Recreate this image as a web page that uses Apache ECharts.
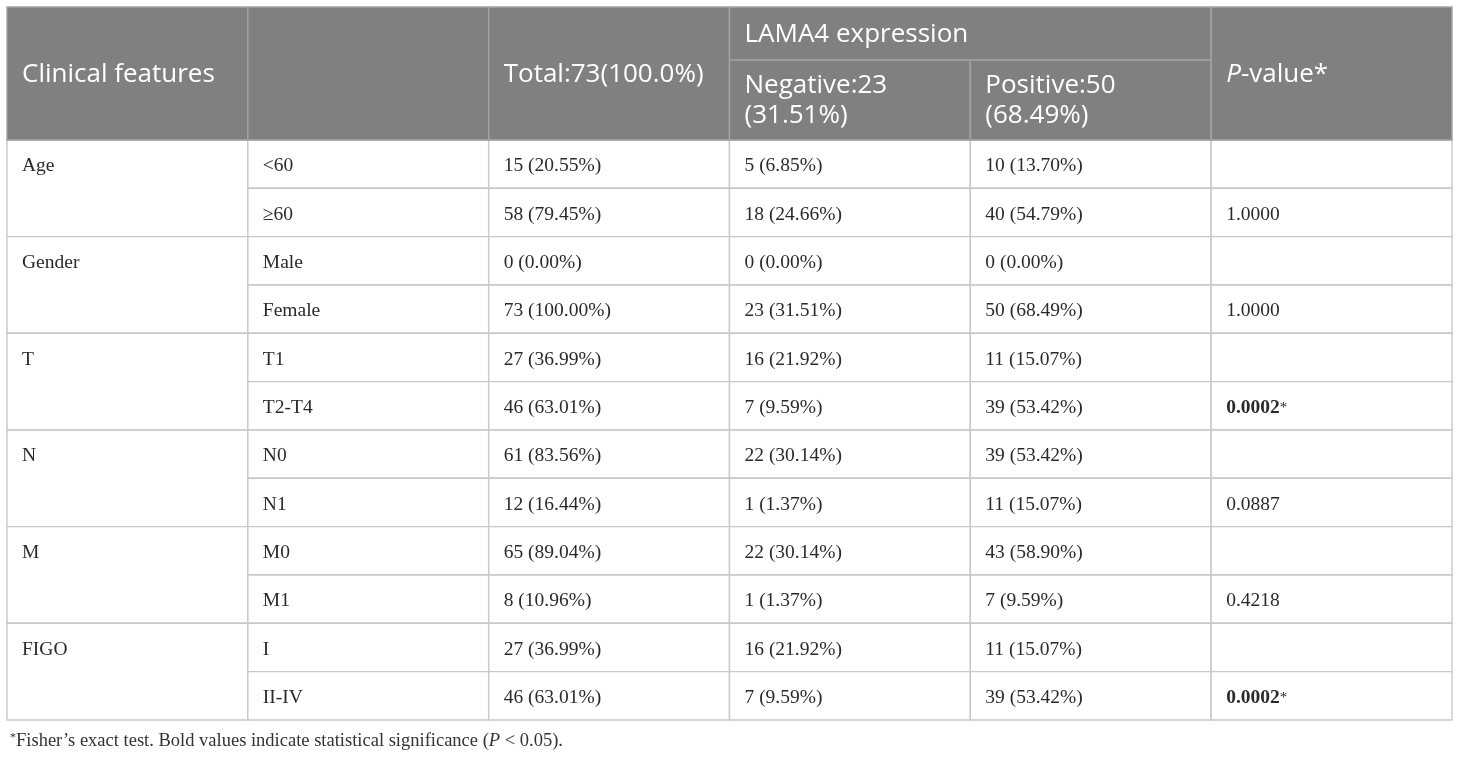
<!DOCTYPE html>
<html>
<head>
<meta charset="utf-8">
<title>LAMA4 expression and clinical features</title>
<script src="https://cdn.jsdelivr.net/npm/echarts@6/dist/echarts.min.js"></script>
<style>
  html, body { margin: 0; padding: 0; background: #fff; }
  #chart { width: 1460px; height: 757px; }
</style>
</head>
<body>
<div id="chart"></div>
<script>
// table content, one entry per body row (two rows per clinical feature)
const features = ["Age", "Gender", "T", "N", "M", "FIGO"];
const subgroups = ["<60", "≥60", "Male", "Female", "T1", "T2-T4", "N0", "N1", "M0", "M1", "I", "II-IV"];

const totalCounts = [15, 58, 0, 73, 27, 46, 61, 12, 65, 8, 27, 46];
const totalPct = [20.55, 79.45, 0.0, 100.0, 36.99, 63.01, 83.56, 16.44, 89.04, 10.96, 36.99, 63.01];

const negativeCounts = [5, 18, 0, 23, 16, 7, 22, 1, 22, 1, 16, 7];
const negativePct = [6.85, 24.66, 0.0, 31.51, 21.92, 9.59, 30.14, 1.37, 30.14, 1.37, 21.92, 9.59];

const positiveCounts = [10, 40, 0, 50, 11, 39, 39, 11, 43, 7, 11, 39];
const positivePct = [13.7, 54.79, 0.0, 68.49, 15.07, 53.42, 53.42, 15.07, 58.9, 9.59, 15.07, 53.42];

// one P-value per feature, shown on the feature's second row
const pValues = [1.0, 1.0, 0.0002, 0.0887, 0.4218, 0.0002];

const headerTitles = ["Clinical features", "", "Total:73(100.0%)", "LAMA4 expression",
  "Negative:23\n(31.51%)", "Positive:50\n(68.49%)", "{i|P}-value*"];
const footnote = "{sup|*}Fisher’s exact test. Bold values indicate statistical significance ({i|P} < 0.05).";

// y units: header top band 1.1, lower band 1.65, then one unit per body row
const HEAD_TOP = 1.1;
const HEAD_END = 2.75;

function cellText(n, p) {
  return n + " (" + p.toFixed(2) + "%)";
}

// build cells: [x0, y0, x1, y1], text, kind
// textSpan = how many units from the top the label is centred in (merged cells keep it on the first row)
const cells = [];

features.forEach((f, i) => {
  const r = HEAD_END + i * 2;
  cells.push({ value: [0, r, 1, r + 2], text: f, kind: "body", textSpan: 1 });
  for (let k = 0; k < 2; k++) {
    const j = i * 2 + k;
    const y = r + k;
    cells.push({ value: [1, y, 2, y + 1], text: subgroups[j], kind: "body" });
    cells.push({ value: [2, y, 3, y + 1], text: cellText(totalCounts[j], totalPct[j]), kind: "body" });
    cells.push({ value: [3, y, 4, y + 1], text: cellText(negativeCounts[j], negativePct[j]), kind: "body" });
    cells.push({ value: [4, y, 5, y + 1], text: cellText(positiveCounts[j], positivePct[j]), kind: "body" });
    let pText = "";
    if (k === 1) {
      const p = pValues[i];
      pText = p < 0.05 ? "{b|" + p.toFixed(4) + "}{s|*}" : p.toFixed(4);
    }
    cells.push({ value: [5, y, 6, y + 1], text: pText, kind: "body" });
  }
});

// header cells go last so they sit on top of the body borders
cells.push({ value: [0, 0, 1, HEAD_END], text: headerTitles[0], kind: "head" });
cells.push({ value: [1, 0, 2, HEAD_END], text: headerTitles[1], kind: "head" });
cells.push({ value: [2, 0, 3, HEAD_END], text: headerTitles[2], kind: "head" });
cells.push({ value: [3, 0, 5, HEAD_TOP], text: headerTitles[3], kind: "head" });
cells.push({ value: [3, HEAD_TOP, 4, HEAD_END], text: headerTitles[4], kind: "head" });
cells.push({ value: [4, HEAD_TOP, 5, HEAD_END], text: headerTitles[5], kind: "head" });
cells.push({ value: [5, 0, 6, HEAD_END], text: headerTitles[6], kind: "head" });

const chart = echarts.init(document.getElementById("chart"), null, { renderer: "canvas" });

const option = {
  animation: false,
  title: {
    text: footnote,
    left: 5,
    top: 727,
    textStyle: {
      fontFamily: "Liberation Serif",
      fontSize: 18.5,
      fontWeight: "normal",
      color: "#333",
      rich: {
        sup: { fontSize: 12, verticalAlign: "top", color: "#333", fontFamily: "Liberation Serif" },
        i: { fontStyle: "italic", fontSize: 18.5, color: "#333", fontFamily: "Liberation Serif" },
      },
    },
  },
  grid: { left: 7, right: 8, top: 7, bottom: 37 },
  xAxis: { type: "value", min: 0, max: 6, show: false },
  yAxis: { type: "value", min: 0, max: HEAD_END + 12, inverse: true, show: false },
  series: [
    {
      type: "custom",
      silent: true,
      encode: { x: [0, 2], y: [1, 3] },
      data: cells.map((c) => c.value),
      renderItem: (params, api) => {
        const cell = cells[params.dataIndex];
        const p0 = api.coord([api.value(0), api.value(1)]);
        const p1 = api.coord([api.value(2), api.value(3)]);
        const head = cell.kind === "head";
        let textY = (p0[1] + p1[1]) / 2;
        if (cell.textSpan) {
          const pt = api.coord([api.value(0), api.value(1) + cell.textSpan]);
          textY = (p0[1] + pt[1]) / 2;
        }
        return {
          type: "group",
          children: [
            {
              type: "rect",
              shape: { x: p0[0], y: p0[1], width: p1[0] - p0[0], height: p1[1] - p0[1] },
              style: {
                fill: head ? "#808080" : "#fff",
                stroke: head ? "#a3a3a3" : "#c8c8c8",
                lineWidth: 1.4,
              },
            },
            {
              type: "text",
              x: p0[0] + 15,
              y: textY + (head ? 1 : 2),
              style: {
                text: cell.text,
                align: "left",
                verticalAlign: "middle",
                fill: head ? "#fff" : "#2a2a2a",
                fontFamily: head ? "Open Sans" : "Liberation Serif",
                fontSize: head ? 26 : 19.5,
                lineHeight: head ? 30 : 22,
                rich: {
                  i: { fontStyle: "italic", fontFamily: "Open Sans", fontSize: 26, fill: "#fff" },
                  b: { fontWeight: "bold", fontFamily: "Liberation Serif", fontSize: 19.5, fill: "#2a2a2a" },
                  s: { fontFamily: "Liberation Serif", fontSize: 15, fill: "#2a2a2a" },
                },
              },
            },
          ],
        };
      },
    },
  ],
};

chart.setOption(option);
</script>
</body>
</html>
